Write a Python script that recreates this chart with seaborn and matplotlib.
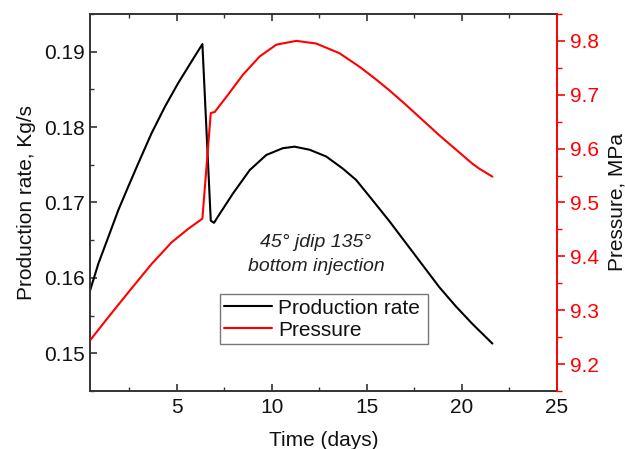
import matplotlib
matplotlib.use("Agg")
import matplotlib.pyplot as plt
import seaborn as sns
import pandas as pd
from matplotlib.ticker import MultipleLocator, FormatStrFormatter
from matplotlib.lines import Line2D

sns.set_style("ticks")
plt.rcParams['font.family'] = ['Liberation Sans', 'DejaVu Sans']

# Production rate (Kg/s)
rate_time = [0.45, 0.89, 1.41, 1.94, 2.46, 2.99, 3.69, 4.39, 5.08, 5.79, 6.36,
             6.80, 6.97, 7.27, 7.97, 8.85, 9.72, 10.59, 11.21, 11.99, 12.87, 13.74,
             14.44, 15.31, 16.2, 17.07, 17.94, 18.81, 19.7, 20.56, 21.61]
rate_vals = [0.1583, 0.1619, 0.1654, 0.1690, 0.1721, 0.1752, 0.1792, 0.1827, 0.1858, 0.1887, 0.1910,
             0.1676, 0.1673, 0.1685, 0.1712, 0.1743, 0.1763, 0.1772, 0.1774, 0.1770, 0.1761, 0.1745,
             0.1730, 0.1703, 0.1675, 0.1646, 0.1617, 0.1588, 0.1562, 0.1539, 0.1513]

# Pressure (MPa)
pres_time = [0.45, 1.41, 2.46, 3.69, 4.74, 5.61, 6.36, 6.80, 7.01, 7.62, 8.49, 9.37,
             10.25, 11.30, 12.35, 13.57, 14.62, 15.4, 16.2, 17.07, 17.94, 18.81, 19.7,
             20.56, 20.91, 21.61]
pres_vals = [9.244, 9.287, 9.333, 9.386, 9.426, 9.451, 9.470, 9.666, 9.668, 9.696, 9.737, 9.771,
             9.793, 9.800, 9.795, 9.777, 9.752, 9.731, 9.708, 9.681, 9.653, 9.625, 9.598,
             9.572, 9.563, 9.548]

df_rate = pd.DataFrame({"t": rate_time, "v": rate_vals})
df_pres = pd.DataFrame({"t": pres_time, "v": pres_vals})

fig = plt.figure(figsize=(6.25, 4.49), dpi=100)
ax = fig.add_axes([0.144, 0.129, 0.747, 0.840])
ax2 = ax.twinx()

sns.lineplot(data=df_rate, x="t", y="v", ax=ax, color="black", lw=1.5, sort=False,
             estimator=None)
sns.lineplot(data=df_pres, x="t", y="v", ax=ax2, color="#ff0000", lw=1.5, sort=False,
             estimator=None)

ax.set_xlim(0.45, 25)
ax.set_ylim(0.145, 0.195)
ax2.set_ylim(9.15, 9.85)

ax.xaxis.set_major_locator(MultipleLocator(5))
ax.xaxis.set_minor_locator(MultipleLocator(2.5))
ax.yaxis.set_major_locator(MultipleLocator(0.01))
ax.yaxis.set_minor_locator(MultipleLocator(0.005))
ax2.yaxis.set_major_locator(MultipleLocator(0.1))
ax2.yaxis.set_minor_locator(MultipleLocator(0.05))
ax.yaxis.set_major_formatter(FormatStrFormatter('%.2f'))
ax2.yaxis.set_major_formatter(FormatStrFormatter('%.1f'))

ax.tick_params(axis='both', which='major', direction='in', length=5, width=1.2,
               labelsize=15, top=True, color='#333333', labelcolor='#111111')
ax.tick_params(axis='both', which='minor', direction='in', length=3, width=1.0,
               top=True, color='#333333')
ax.tick_params(axis='y', right=False, which='both')
ax.tick_params(axis='x', pad=5)
ax2.tick_params(axis='y', which='major', direction='out', length=6, width=1.2,
                colors='#ff0000', labelsize=15)
ax2.tick_params(axis='y', which='minor', direction='out', length=3.5, width=1.0,
                colors='#ff0000')

for s in ['left', 'bottom', 'top']:
    ax.spines[s].set_linewidth(1.4)
    ax.spines[s].set_color('#333333')
for s in ['left', 'bottom', 'top']:
    ax2.spines[s].set_visible(False)
ax2.spines['right'].set_visible(True)
ax2.spines['right'].set_color('#ff0000')
ax2.spines['right'].set_linewidth(1.4)
ax.spines['right'].set_visible(False)

ax.set_xlabel("Time (days)", fontsize=15, labelpad=10, color='#111111')
ax.set_ylabel("Production rate, Kg/s", fontsize=15, labelpad=6, color='#111111')
ax2.set_ylabel("Pressure, MPa", fontsize=15, labelpad=6, color='#111111')

ax.text(0.484, 0.393, "45° jdip 135°", transform=ax.transAxes, fontsize=14,
        style='italic', ha='center', va='center', color='#222222')
ax.text(0.484, 0.329, "bottom injection", transform=ax.transAxes, fontsize=14,
        style='italic', ha='center', va='center', color='#222222')

handles = [Line2D([], [], color='black', lw=1.5), Line2D([], [], color='#ff0000', lw=1.5)]
leg = ax.legend(handles, ["Production rate", "Pressure"], loc='lower left',
                bbox_to_anchor=(0.278, 0.125, 0.447, 0.148), mode='expand',
                fontsize=15, frameon=True, fancybox=False, handlelength=2.3,
                borderaxespad=0, handletextpad=0.3, borderpad=0.2, labelspacing=0.15)
leg.get_frame().set_edgecolor('#555555')
leg.get_frame().set_linewidth(1.0)
for t in leg.get_texts():
    t.set_color('#111111')

fig.savefig("out.png", dpi=100)
